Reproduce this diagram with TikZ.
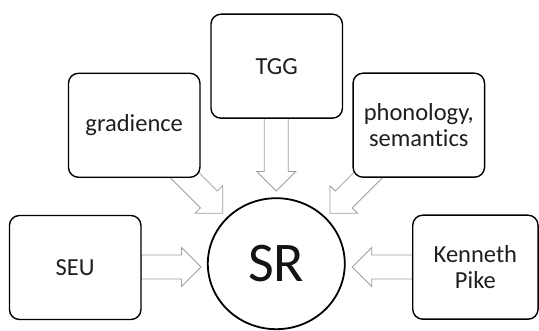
\documentclass[tikz,border=0pt]{standalone}
\usepackage{fontspec}
\setmainfont{Carlito}[Ligatures=NoCommon]

% hollow block arrow: #1 tip, #2 direction angle, #3 total length
\newcommand\blockarrow[3]{%
  \begin{scope}[shift={#1}, rotate=#2]
    \draw[arrowline] (0,0) -- (-19.5,19.5) -- (-19.5,12) -- (-#3,12)
      -- (-#3,-12) -- (-19.5,-12) -- (-19.5,-19.5) -- cycle;
  \end{scope}}

\begin{document}
\begin{tikzpicture}[x=1pt, y=1pt,
  topic/.style={draw=black, line width=1.4pt, fill=white, rounded corners=10pt,
    minimum width=131.5pt, minimum height=104pt, align=center,
    text=black!88, font=\fontsize{24.5}{26.5}\selectfont, inner sep=0pt},
  arrowline/.style={draw=black!38, line width=0.8pt, fill=white, line join=miter}]

\useasboundingbox (0,0) rectangle (539,331);

% connectors (drawn first so the boxes hide their tails)
\coordinate (tipTGG) at (276.3,140);
\coordinate (tipSEU) at (201,64);
\coordinate (tipKP)  at (352.3,64);
\coordinate (tipGR)  at (222.7,117.7);
\coordinate (tipPS)  at (330,117.7);

\blockarrow{(tipTGG)}{-90}{72.7}
\blockarrow{(tipSEU)}{0}{60}
\blockarrow{(tipKP)}{180}{60}
\blockarrow{(tipGR)}{-45}{62}
\blockarrow{(tipPS)}{-135}{62}

% surrounding topics
\node[topic] (seu)  at (75.2,63.5)  {SEU};
\node[topic, minimum width=125.3pt] (kp) at (475.4,63.8) {Kenneth\\Pike};
\node[topic] (grad) at (134.2,205.7) {gradience};
\node[topic] (tgg)  at (276.7,264.8) {TGG};
\node[topic] (phon) at (418.8,205.8) {phonology,\\semantics};

% central node
\draw[line width=1.8pt, fill=white] (276.3,67.3) ellipse [x radius=68.5pt, y radius=65.5pt];
\node[font=\fontsize{56}{60}\selectfont, text=black!92, inner sep=0pt] (sr) at (276.3,67.3) {SR};

\end{tikzpicture}
\end{document}
